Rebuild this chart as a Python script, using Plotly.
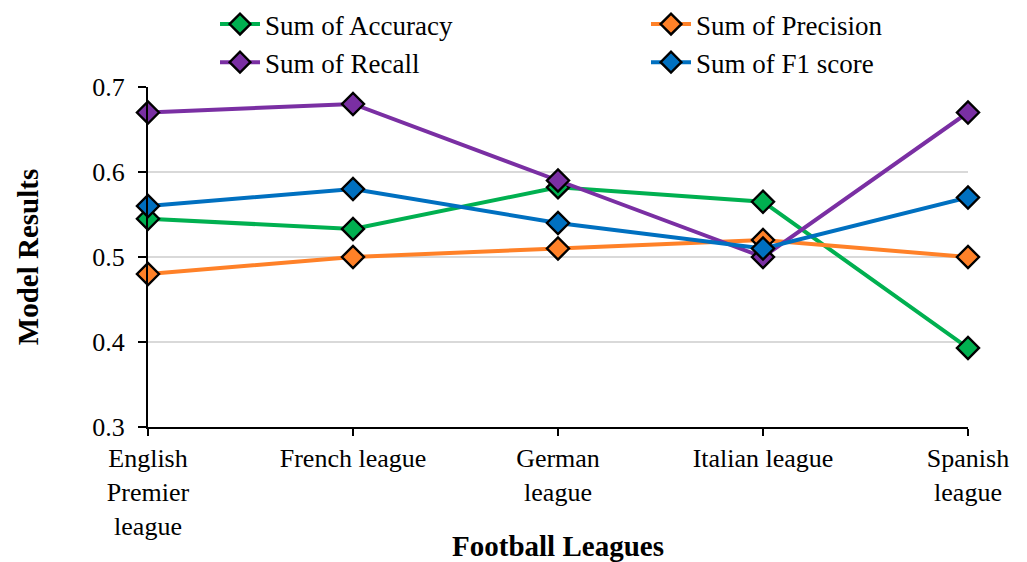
import plotly.graph_objects as go

leagues = ["English<br>Premier<br>league", "French league", "German<br>league",
           "Italian league", "Spanish<br>league"]
accuracy = [0.545, 0.533, 0.582, 0.565, 0.393]
precision = [0.48, 0.50, 0.51, 0.52, 0.50]
recall = [0.67, 0.68, 0.59, 0.50, 0.67]
f1_score = [0.56, 0.58, 0.54, 0.51, 0.57]

series = [
    ("Sum of Accuracy", accuracy, "#00B050", "legend"),
    ("Sum of Recall", recall, "#7A2FA3", "legend"),
    ("Sum of Precision", precision, "#FF8128", "legend2"),
    ("Sum of F1 score", f1_score, "#0070C0", "legend2"),
]
draw_order = [0, 2, 1, 3]

font = "Liberation Serif, Times New Roman, serif"
fig = go.Figure()
for i in draw_order:
    name, vals, col, leg = series[i]
    fig.add_trace(go.Scatter(
        x=list(range(len(leagues))), y=vals, name=name, mode="lines+markers",
        line=dict(color=col, width=4),
        marker=dict(symbol="diamond", size=17, color=col,
                    line=dict(color="black", width=2.4)),
        cliponaxis=False, legend=leg,
    ))

legend_common = dict(orientation="v", xref="paper", yref="container",
                     xanchor="left", yanchor="top", traceorder="normal",
                     font=dict(family=font, size=27, color="black"),
                     itemwidth=40, bgcolor="rgba(0,0,0,0)", tracegroupgap=0)

fig.update_layout(
    width=1027, height=562,
    margin=dict(l=148, r=59, t=87, b=135),
    paper_bgcolor="white", plot_bgcolor="white",
    font=dict(family=font, size=26, color="black"),
    showlegend=True,
    legend=dict(x=(215 - 148) / 820, y=1.034, **legend_common),
    legend2=dict(x=(646 - 148) / 820, y=1.034, **legend_common),
    xaxis=dict(
        tickmode="array", tickvals=list(range(len(leagues))), ticktext=leagues,
        range=[0, len(leagues) - 1], showgrid=False, zeroline=False,
        showline=True, linecolor="black", linewidth=2,
        ticks="outside", ticklen=7, tickwidth=2, tickcolor="black",
        tickfont=dict(family=font, size=26), automargin=False, tickangle=0,
        title=dict(text="<b>Football Leagues</b>", font=dict(family=font, size=29),
                   standoff=0),
    ),
    yaxis=dict(
        range=[0.3, 0.7], dtick=0.1, tickformat=".1f",
        showgrid=True, gridcolor="#D9D9D9", gridwidth=2, zeroline=False,
        showline=True, linecolor="black", linewidth=2,
        ticks="outside", ticklen=8, tickwidth=2, tickcolor="black",
        tickfont=dict(family=font, size=26), automargin=False,
        ticklabelstandoff=8,
        title=dict(text="<b>Model Results</b>", font=dict(family=font, size=29),
                   standoff=45),
    ),
)

fig.write_html("out.html", config={"displayModeBar": False},
               post_script="document.body.style.margin='0';")
